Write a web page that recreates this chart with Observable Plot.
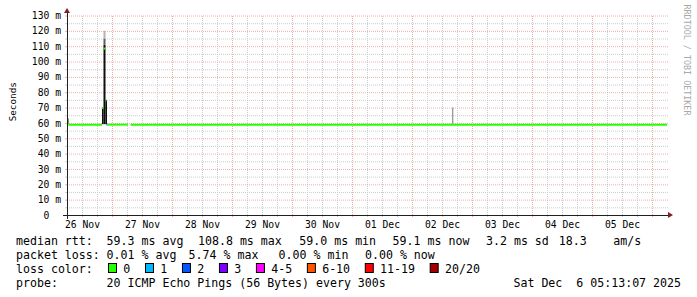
<!DOCTYPE html>
<html><head><meta charset="utf-8">
<script src="https://cdn.jsdelivr.net/npm/d3@7"></script>
<script src="https://cdn.jsdelivr.net/npm/@observablehq/plot@0.6"></script>
<style>
html,body{margin:0;padding:0;background:#fff;}
#wrap{position:relative;width:697px;height:297px;overflow:hidden;background:#fff;}
#wrap svg{display:block;}
</style></head><body><div id="wrap"></div>
<script>
// ---------------- data ----------------
// x axis: hours since 26 Nov 00:00
const dayLabels = ["26 Nov","27 Nov","28 Nov","29 Nov","30 Nov","01 Dec","02 Dec","03 Dec","04 Dec","05 Dec"];
const yTickValues = [0,10,20,30,40,50,60,70,80,90,100,110,120,130];
const yTickLabels = ["0\u00a0\u00a0","10 m","20 m","30 m","40 m","50 m","60 m","70 m","80 m","90 m","100 m","110 m","120 m","130 m"];

// median rtt (ms) per stretch, with loss class index
const medStart = [6.0, 6.5, 20.0, 20.6, 21.4, 21.8, 22.2, 31.4];
const medEnd   = [6.5, 20.0, 20.6, 21.4, 21.8, 22.2, 30.4, 246];
const medValue = [61.8, 59.2, 70.0, 108.8, 75.0, 59.2, 59.2, 59.2];
const medLoss  = [0, 0, 0, 0, 0, 2, 0, 0];

// smoke (ping spread, ms) per bin
const smokeStart   = [6.2, 20.0, 20.6, 20.6, 20.6, 21.4, 160.1];
const smokeEnd     = [6.6, 20.6, 21.4, 21.4, 21.4, 22.0, 160.5];
const smokeLow     = [59.3, 59.2, 59.2, 111, 115, 59.2, 59.4];
const smokeHigh    = [63.0, 70.0, 111, 115, 120, 75.0, 70.0];
const smokeDensity = [0.9, 0.95, 0.95, 0.7, 0.4, 0.95, 0.6];

const lossLabels = ["0","1","2","3","4-5","6-10","11-19","20/20"];
const lossColors = ["#26ff00","#00b8ff","#0059ff","#7e00ff","#ff00ff","#ff5500","#ff0000","#a10000"];

const rttStats  = ["median rtt:","59.3 ms avg","108.8 ms max","59.0 ms min","59.1 ms now","3.2 ms sd","18.3","am/s"];
const lossStats = ["packet loss:","0.01 % avg","5.74 % max","0.00 % min","0.00 % now"];
const lossColorTitle = "loss color:";
const probeStats = ["probe:","20 ICMP Echo Pings (56 Bytes) every 300s"];
const stamp = "Sat Dec  6 05:13:07 2025";
const yLabel = "Seconds";
const watermark = "RRDTOOL / TOBI OETIKER";

// ---------------- build ----------------
const med = medStart.map((s,i)=>({s, e: medEnd[i], v: medValue[i], c: lossColors[medLoss[i]]}));
const smoke = smokeStart.map((s,i)=>({s, e: smokeEnd[i], lo: smokeLow[i], hi: smokeHigh[i], f: d3.interpolateGreys(smokeDensity[i])}));

const x0 = 6, x1 = 246;
const noon = dayLabels.map((d,i)=>12 + 24*i);
const majorX = d3.range(24, x1 + 0.1, 24);
const minorX = d3.range(12, x1, 6).filter(h => h % 24 !== 0);
const majorY = yTickValues.filter(v => v > 0);
const minorY = d3.range(5, 130, 10);

const minorCol = "#cdcdcd", majorCol = "#efaeae", axisCol = "#1f1f1f", arrowCol = "#801f1f";

const plot = Plot.plot({
  width: 697, height: 232,
  marginLeft: 67, marginRight: 30, marginTop: 15.5, marginBottom: 17,
  x: {domain: [x0, x1]},
  y: {domain: [0, 130]},
  color: {type: "identity"},
  style: {fontFamily: "'DejaVu Sans Mono', monospace", fontSize: "9.7px", background: "white", overflow: "visible"},
  marks: [
    // grid
    Plot.ruleX(minorX, {y1: 0, y2: 130, stroke: minorCol, strokeDasharray: "1,1"}),
    Plot.ruleY(minorY, {x1: x0, x2: x1 + 0.4, stroke: minorCol, strokeDasharray: "1,1"}),
    Plot.ruleX(majorX, {y1: 0, y2: 130, stroke: majorCol, strokeDasharray: "1,1"}),
    Plot.ruleY(majorY, {x1: x0, x2: x1 + 0.4, stroke: majorCol, strokeDasharray: "1,1"}),
    // outside ticks
    Plot.ruleY(minorY, {x1: x0 - 0.8, x2: x0, stroke: minorCol}),
    Plot.ruleY(majorY, {x1: x0 - 0.8, x2: x0, stroke: majorCol}),
    Plot.ruleX(minorX, {y1: -1.3, y2: 0, stroke: minorCol}),
    Plot.ruleX(majorX, {y1: -1.3, y2: 0, stroke: majorCol}),
    // smoke
    Plot.rect(smoke, {x1: "s", x2: "e", y1: "lo", y2: "hi", fill: "f"}),
    // median
    Plot.ruleY(med, {x1: "s", x2: "e", y: "v", stroke: "c", strokeWidth: 2}),
    // axis lines
    Plot.ruleY([0], {x1: x0 - 1.6, x2: x1 + 1.6, stroke: axisCol}),
    Plot.ruleX([x0], {y1: -2.6, y2: 132.6, stroke: axisCol}),
    // arrows
    Plot.areaY([{x: x1 + 0.4, a: -1.95, b: 1.95}, {x: x1 + 2.4, a: 0, b: 0}], {x: "x", y1: "a", y2: "b", fill: arrowCol}),
    Plot.areaX([{y: 131.6, a: x0 - 1.2, b: x0 + 1.2}, {y: 134.9, a: x0, b: x0}], {y: "y", x1: "a", x2: "b", fill: arrowCol}),
    // axes labels
    Plot.axisX(noon, {anchor: "bottom", tickSize: 0, tickPadding: 6, label: null,
      tickFormat: d => dayLabels[noon.indexOf(d)]}),
    Plot.axisY(yTickValues, {anchor: "left", tickSize: 0, tickPadding: 6.5, label: null,
      tickFormat: d => yTickLabels[yTickValues.indexOf(d)]})
  ]
});
document.getElementById("wrap").appendChild(plot);

const psvg = d3.select(plot);
const yMid = (plot.scale("y").apply(0) + plot.scale("y").apply(130)) / 2;
psvg.append("text")
  .attr("transform", `translate(16,${yMid - 13.5}) rotate(-90)`)
  .attr("text-anchor", "middle")
  .style("font-family", "'DejaVu Sans Mono', monospace").style("font-size", "9.3px")
  .attr("fill", "#000").text(yLabel);
psvg.append("text")
  .attr("transform", `translate(683.5,60) rotate(90)`)
  .attr("text-anchor", "middle")
  .style("font-family", "'DejaVu Sans Mono', monospace").style("font-size", "8.4px")
  .attr("fill", "#a8a8a8").text(watermark);

// ---------------- legend block ----------------
const cw = 6.98;
const leg = d3.select("#wrap").append("svg").attr("width", 697).attr("height", 65)
  .style("display", "block")
  .style("font-family", "'DejaVu Sans Mono', monospace").style("font-size", "11.6px");
function put(str, x, y) {
  leg.append("text").attr("x", x).attr("y", y).attr("fill", "#000")
    .attr("xml:space", "preserve").style("white-space", "pre").text(str);
}
const rttX = [16, 106.6, 198, 299.3, 392.6, 486, 558.8, 613.3];
rttStats.forEach((s,i) => put(s, rttX[i], 12.5));
const lossX = [16, 106.6, 188.6, 278.6, 365];
lossStats.forEach((s,i) => put(s, lossX[i], 26.5));
put(lossColorTitle, 16, 40.5);
let sq = 108;
lossLabels.forEach((lab, i) => {
  leg.append("rect").attr("x", sq + 0.5).attr("y", 31.5).attr("width", 8).attr("height", 9)
    .attr("fill", lossColors[i]).attr("stroke", "#000").attr("stroke-width", 1);
  put(lab, sq + 15.3, 40.5);
  sq += 30 + lab.length * cw;
});
put(probeStats[0], 16, 54.5);
put(probeStats[1], 106.6, 54.5);
leg.append("text").attr("x", 681).attr("y", 54.5).attr("text-anchor", "end").attr("fill", "#000")
  .attr("xml:space", "preserve").style("white-space", "pre").text(stamp);
</script>
</body></html>
